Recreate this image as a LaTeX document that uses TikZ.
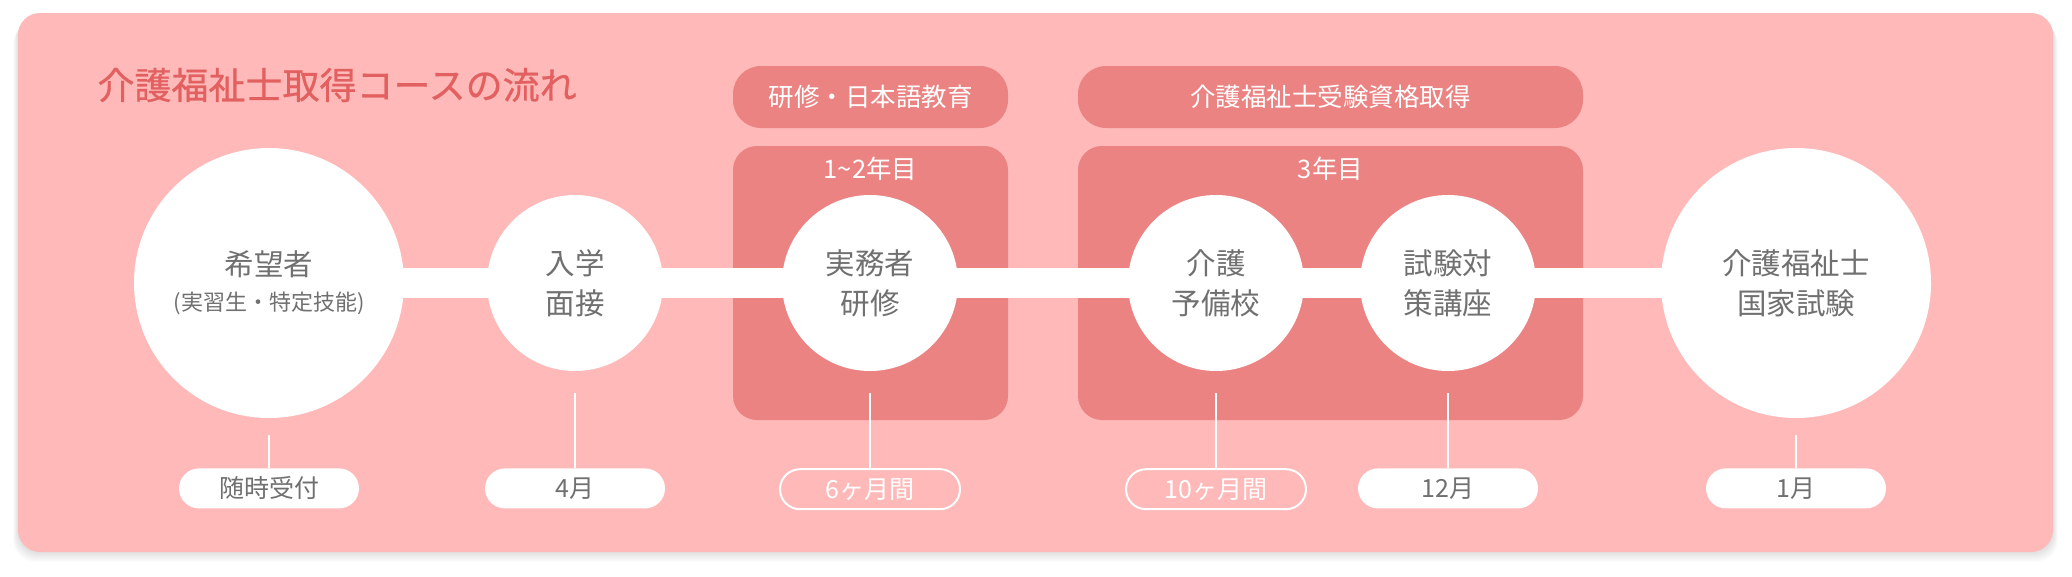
\documentclass[tikz,border=0pt]{standalone}
\usepackage{fontspec}
\newfontfamily\jpfont{Noto Sans CJK JP}
\newfontfamily\jpmedium[FakeBold=0.6]{Noto Sans CJK JP}
\usetikzlibrary{positioning,backgrounds}
\definecolor{CoursePink}{RGB}{255,185,185}
\definecolor{CourseRose}{RGB}{235,131,131}
\definecolor{CourseRed}{RGB}{226,96,96}
\definecolor{CourseGray}{RGB}{112,112,112}

\begin{document}
\begin{tikzpicture}[x=1pt,y=-1pt]
\tikzstyle{bigstep}=[circle,fill=white,minimum size=270pt,inner sep=0pt,align=center,text=CourseGray,font=\jpfont\fontsize{29.5}{40}\selectfont]
\tikzstyle{smallstep}=[bigstep,minimum size=176pt]
\tikzstyle{datefill}=[rounded corners=20pt,fill=white,minimum width=180pt,minimum height=40pt,inner sep=0pt,text=CourseGray,font=\jpfont\fontsize{25}{30}\selectfont]
\tikzstyle{dateline}=[datefill,fill=CoursePink,draw=white,line width=2pt,text=white]
\tikzstyle{phasehead}=[rounded corners=28pt,fill=CourseRose,minimum height=62pt,inner sep=0pt,text=white,font=\jpfont\fontsize{25.5}{30}\selectfont]
\tikzstyle{phasebox}=[rounded corners=24pt,fill=CourseRose,minimum height=274pt,inner sep=0pt]
\tikzstyle{yearlabel}=[text=white,font=\jpfont\fontsize{25.5}{30}\selectfont]
\tikzstyle{tick}=[white,line width=1.5pt]
\useasboundingbox (0,0) rectangle (2072,576);
% steps
\node[bigstep] (hope) at (269,283) {希望者\\[-5pt]{\fontsize{22}{26}\selectfont (実習生・特定技能)}};
\node[smallstep] (entry) at (575,283) {入学\\面接};
\node[smallstep] (practice) at (870,283) {実務者\\研修};
\node[smallstep] (prep) at (1216,283) {介護\\予備校};
\node[smallstep] (course) at (1448,283) {試験対\\策講座};
\node[bigstep] (exam) at (1796,283) {介護福祉士\\国家試験};
% dates
\node[datefill,below=50pt of hope] (hope-date) {随時受付};
\node[datefill,below=97pt of entry] (entry-date) {4月};
\node[dateline,below=97pt of practice] (practice-date) {6ヶ月間};
\node[dateline,below=97pt of prep] (prep-date) {10ヶ月間};
\node[datefill,below=97pt of course] (course-date) {12月};
\node[datefill,below=50pt of exam] (exam-date) {1月};
\draw[tick,shorten <=17pt] (hope) -- (hope-date);
\draw[tick,shorten <=22pt] (entry) -- (entry-date);
\draw[tick,shorten <=22pt] (practice) -- (practice-date);
\draw[tick,shorten <=22pt] (prep) -- (prep-date);
\draw[tick,shorten <=22pt] (course) -- (course-date);
\draw[tick,shorten <=17pt] (exam) -- (exam-date);
\node[anchor=west,text=CourseRed,font=\jpmedium\fontsize{37}{40}\selectfont] (title) at (94,85) {介護福祉士取得コースの流れ};
\begin{pgfonlayer}{background}
\foreach \s in {1,...,10}
  \fill[black,opacity=0.012,rounded corners=22pt] (18-\s/2,13+\s) rectangle (2053+\s/2,552+\s);
\fill[CoursePink,rounded corners=22pt] (18,13) rectangle (2053,552);
\node[phasehead,minimum width=275pt] (train-head) at (870.5,97) {研修・日本語教育};
\node[phasebox,minimum width=275pt] (train-box) at (870.5,283) {};
\node[yearlabel] (train-year) at (870.5,169) {1\textasciitilde 2年目};
\node[phasehead,minimum width=505pt] (exam-head) at (1330.5,97) {介護福祉士受験資格取得};
\node[phasebox,minimum width=505pt] (exam-box) at (1330.5,283) {};
\node[yearlabel] (exam-year) at (1330.5,169) {3年目};
\draw[white,line width=30pt] (hope.center) -- (exam.center);
\end{pgfonlayer}
\end{tikzpicture}
\end{document}
